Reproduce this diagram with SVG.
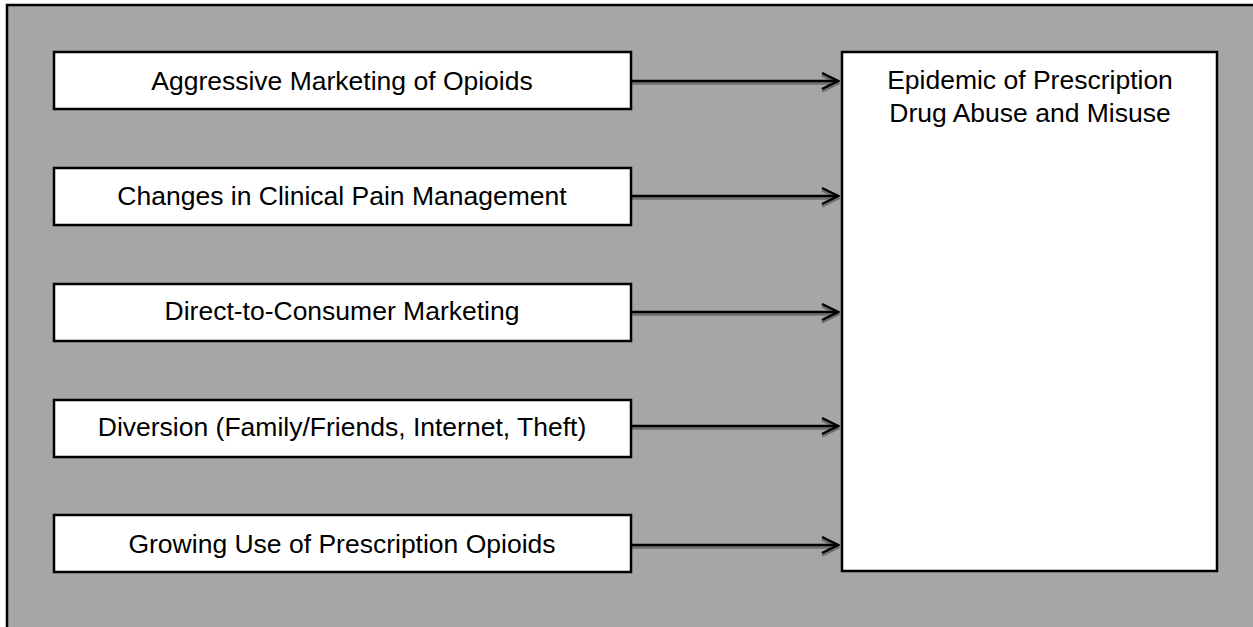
<svg xmlns="http://www.w3.org/2000/svg" width="1253" height="627" viewBox="0 0 1253 627">
<style>
.box{fill:#fff;stroke:#000;stroke-width:2.5}
.t{font-family:"Liberation Sans",Arial,sans-serif;font-size:26.5px;fill:#000;text-anchor:middle}
.ln{stroke:#000;stroke-width:2.5;fill:none}
.sh{stroke:#6e6e6e;stroke-width:2.5;fill:none}
</style>
<defs>
<marker id="ah" viewBox="0 0 20 20" refX="18" refY="10" markerWidth="20" markerHeight="20" markerUnits="userSpaceOnUse" orient="auto">
<path d="M2,2 L18,10 L2,18" fill="none" stroke="#000" stroke-width="2.5"/>
</marker>
<marker id="ahs" viewBox="0 0 20 20" refX="18" refY="10" markerWidth="20" markerHeight="20" markerUnits="userSpaceOnUse" orient="auto">
<path d="M2,2 L18,10 L2,18" fill="none" stroke="#6e6e6e" stroke-width="2.5"/>
</marker>
</defs>
<g id="frame">
<rect x="7" y="5" width="1250" height="626" fill="#a6a6a6" stroke="#000" stroke-width="2.5"/>
</g>
<g id="connectors">
<line class="sh" x1="632" y1="83.5" x2="838" y2="83.5" marker-end="url(#ahs)"/>
<line class="ln" x1="632" y1="81" x2="838" y2="81" marker-end="url(#ah)"/>
<line class="sh" x1="632" y1="198.5" x2="838" y2="198.5" marker-end="url(#ahs)"/>
<line class="ln" x1="632" y1="196" x2="838" y2="196" marker-end="url(#ah)"/>
<line class="sh" x1="632" y1="314.5" x2="838" y2="314.5" marker-end="url(#ahs)"/>
<line class="ln" x1="632" y1="312" x2="838" y2="312" marker-end="url(#ah)"/>
<line class="sh" x1="632" y1="428.5" x2="838" y2="428.5" marker-end="url(#ahs)"/>
<line class="ln" x1="632" y1="426" x2="838" y2="426" marker-end="url(#ah)"/>
<line class="sh" x1="632" y1="547.5" x2="838" y2="547.5" marker-end="url(#ahs)"/>
<line class="ln" x1="632" y1="545" x2="838" y2="545" marker-end="url(#ah)"/>
</g>
<g id="n1">
<rect class="box" x="54" y="52" width="577" height="57"/>
<text class="t" x="342" y="90">Aggressive Marketing of Opioids</text>
</g>
<g id="n2">
<rect class="box" x="54" y="168" width="577" height="57"/>
<text class="t" x="342" y="205">Changes in Clinical Pain Management</text>
</g>
<g id="n3">
<rect class="box" x="54" y="284" width="577" height="57"/>
<text class="t" x="342" y="320">Direct-to-Consumer Marketing</text>
</g>
<g id="n4">
<rect class="box" x="54" y="400" width="577" height="57"/>
<text class="t" x="342" y="436">Diversion (Family/Friends, Internet, Theft)</text>
</g>
<g id="n5">
<rect class="box" x="54" y="515" width="577" height="57"/>
<text class="t" x="342" y="553">Growing Use of Prescription Opioids</text>
</g>
<g id="n6">
<rect class="box" x="842" y="52" width="375" height="519"/>
<text class="t" x="1030" y="89">Epidemic of Prescription</text>
<text class="t" x="1030" y="122">Drug Abuse and Misuse</text>
</g>
</svg>
